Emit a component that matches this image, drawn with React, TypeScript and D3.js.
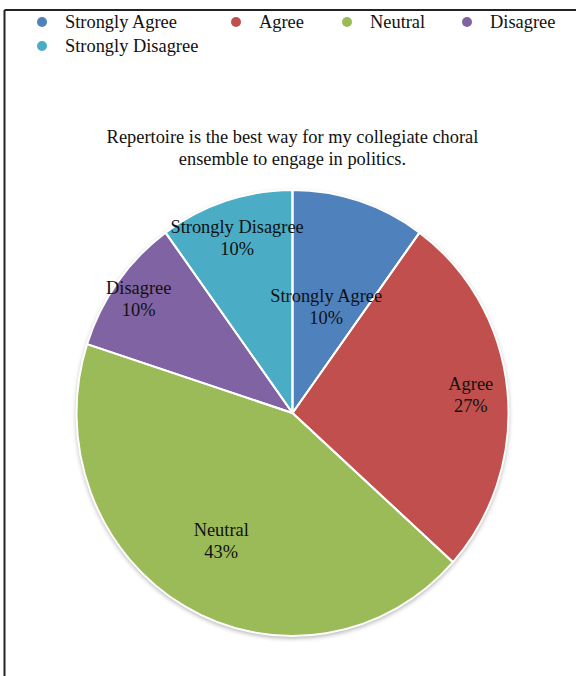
import React from "react";
import * as d3 from "d3";

const categories = ["Strongly Agree", "Agree", "Neutral", "Disagree", "Strongly Disagree"];
const counts = [3, 8, 13, 3, 3];
const colors = ["#4F81BD", "#C0504D", "#9BBB59", "#8064A2", "#4BACC6"];
const labelRadius = [0.505, 0.83, 0.66, 0.88, 0.83];
const titleLines = [
  "Repertoire is the best way for my collegiate choral",
  "ensemble to engage in politics.",
];
const legendRows = [
  [0, 1, 2, 3],
  [4],
];
const legendX = [42, 236, 347, 467];

const W = 576;
const H = 676;
const CX = 292.5;
const CY = 413;
const RY = 223;
const RX = 216;
const FONT = "'Liberation Serif', 'Times New Roman', serif";
const FS = 18.4;

export default function App() {
  const total = d3.sum(counts);
  const pie = d3.pie<number>().sort(null).value((d) => d);
  const arcs = pie(counts);
  const arc = d3.arc<d3.PieArcDatum<number>>().innerRadius(0).outerRadius(RY);
  const sx = RX / RY;

  return (
    <svg
      width={W}
      height={H}
      style={{ position: "absolute", left: 0, top: 0, background: "#fff" }}
      fontFamily={FONT}
    >
      <defs>
        <filter id="shadow" x="-10%" y="-10%" width="120%" height="120%">
          <feGaussianBlur in="SourceAlpha" stdDeviation="2.5" />
          <feOffset dx="0" dy="1.5" result="b" />
          <feComponentTransfer>
            <feFuncA type="linear" slope="0.35" />
          </feComponentTransfer>
          <feMerge>
            <feMergeNode />
            <feMergeNode in="SourceGraphic" />
          </feMerge>
        </filter>
      </defs>
      <rect x={0} y={0} width={W} height={H} fill="#fff" />
      {/* frame */}
      <line x1={4.5} y1={10} x2={4.5} y2={H} stroke="#222" strokeWidth={2} />
      <line x1={4.5} y1={10} x2={W} y2={10} stroke="#222" strokeWidth={2} />

      {/* legend */}
      {legendRows.map((row, ri) =>
        row.map((ci, k) => {
          const y = 22 + ri * 24;
          return (
            <g key={ci}>
              <circle cx={legendX[k]} cy={y} r={5} fill={colors[ci]} />
              <text x={legendX[k] + 23} y={y + 6} fontSize={FS} fill="#111">
                {categories[ci]}
              </text>
            </g>
          );
        })
      )}

      {/* title */}
      {titleLines.map((t, i) => (
        <text key={i} x={CX} y={143 + i * 22} fontSize={FS} textAnchor="middle" fill="#111">
          {t}
        </text>
      ))}

      {/* pie */}
      <g transform={`translate(${CX},${CY}) scale(${sx},1)`}>
        <g filter="url(#shadow)">
          {arcs.map((a, i) => (
            <path key={i} d={arc(a) || ""} fill={colors[i]} />
          ))}
        </g>
        {arcs.map((a, i) => (
          <path
            key={"s" + i}
            d={arc(a) || ""}
            fill="none"
            stroke="#fff"
            strokeWidth={2}
            strokeLinejoin="round"
            vectorEffect="non-scaling-stroke"
          />
        ))}
      </g>

      {/* labels */}
      {arcs.map((a, i) => {
        const mid = (a.startAngle + a.endAngle) / 2;
        const r = labelRadius[i] * RY;
        const x = CX + Math.sin(mid) * r * sx;
        const y = CY - Math.cos(mid) * r;
        const pct = Math.round((counts[i] / total) * 100) + "%";
        return (
          <g key={"l" + i} fontSize={FS} textAnchor="middle" fill="#111">
            <text x={x} y={y - 4}>
              {categories[i]}
            </text>
            <text x={x} y={y + 18}>
              {pct}
            </text>
          </g>
        );
      })}
    </svg>
  );
}
